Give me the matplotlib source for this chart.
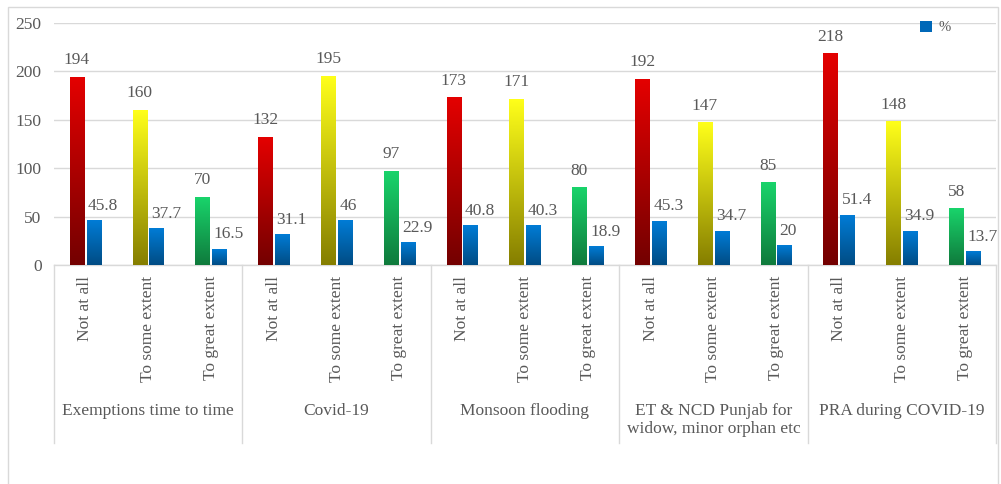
import numpy as np
import matplotlib
matplotlib.use("Agg")
import matplotlib.pyplot as plt
from matplotlib.colors import LinearSegmentedColormap
from matplotlib.patches import Rectangle, Patch
from matplotlib.transforms import blended_transform_factory

# ---- data ----
groups = ["Exemptions time to time", "Covid-19", "Monsoon flooding",
          "ET & NCD Punjab for\nwidow, minor orphan etc", "PRA during COVID-19"]
responses = ["Not at all", "To some extent", "To great extent"]
counts = [194, 160, 70,
          132, 195, 97,
          173, 171, 80,
          192, 147, 85,
          218, 148, 58]
percent = [45.8, 37.7, 16.5,
           31.1, 46, 22.9,
           40.8, 40.3, 18.9,
           45.3, 34.7, 20,
           51.4, 34.9, 13.7]
pct_labels = ["45.8", "37.7", "16.5", "31.1", "46", "22.9", "40.8", "40.3",
              "18.9", "45.3", "34.7", "20", "51.4", "34.9", "13.7"]
yticks = [0, 50, 100, 150, 200, 250]

# gradient (bottom colour, top colour) per response
response_grad = [("#730000", "#E40000"),
                 ("#857E00", "#FFFF1A"),
                 ("#0F7A3C", "#19D46B")]
pct_grad = ("#004C84", "#007CD6")

TEXT = "#595959"
GRID = "#D9D9D9"
FONT = "Liberation Serif"
FS = 12.5

plt.rcParams["font.family"] = [FONT, "DejaVu Serif"]

fig = plt.figure(figsize=(10.01, 4.84), dpi=100)
ax = fig.add_axes([54 / 1001, (484 - 265) / 484, (996 - 54) / 1001, 242 / 484])

# outer chart border
fig.patches.append(Rectangle((8 / 1001, -0.01), (998 - 8) / 1001, (484 - 7) / 484 + 0.01,
                             transform=fig.transFigure, fill=False,
                             edgecolor=GRID, linewidth=1.0, zorder=0))

n = len(counts)
x = np.arange(n)
width = 0.23
off = 0.135


def gradient_bar(xc, h, c_bottom, c_top):
    cmap = LinearSegmentedColormap.from_list("g", [c_bottom, c_top])
    grad = np.linspace(0, 1, 256).reshape(-1, 1)
    ax.imshow(grad, extent=[xc - width / 2, xc + width / 2, 0, h], origin="lower",
              cmap=cmap, aspect="auto", zorder=3, interpolation="bicubic")


for i in range(n):
    r = i % 3
    cb, ct = response_grad[r]
    gradient_bar(x[i] - off, counts[i], cb, ct)
    gradient_bar(x[i] + off, percent[i], *pct_grad)
    ax.annotate(str(counts[i]), (x[i] - off, counts[i]), xytext=(0, 6.5),
                textcoords="offset points", ha="center", va="bottom",
                fontsize=FS, color=TEXT)
    ax.annotate(pct_labels[i], (x[i] + off - width / 2, percent[i]), xytext=(1, 5),
                textcoords="offset points", ha="left", va="bottom",
                fontsize=FS, color=TEXT)

ax.set_xlim(-0.5, n - 0.5)
ax.set_ylim(0, 250)
ax.set_yticks(yticks)
ax.set_yticklabels([str(v) for v in yticks], fontsize=FS, color=TEXT)
ax.yaxis.grid(True, color=GRID, linewidth=1.0)
ax.set_axisbelow(True)
ax.tick_params(axis="y", length=0, pad=9)

ax.set_xticks(x)
ax.set_xticklabels([responses[i % 3] for i in range(n)], rotation=90,
                   fontsize=FS, color=TEXT, va="top")
ax.tick_params(axis="x", length=0, pad=8)

for s in ["top", "right", "left"]:
    ax.spines[s].set_visible(False)
ax.spines["bottom"].set_color(GRID)
ax.spines["bottom"].set_linewidth(1.0)

trans = blended_transform_factory(ax.transData, ax.transAxes)
sep_bottom = (265 - 443) / 242
for g in range(len(groups) + 1):
    xs = g * 3 - 0.5
    ax.plot([xs, xs], [0, sep_bottom], color=GRID, linewidth=1.0,
            transform=trans, clip_on=False)
for g, name in enumerate(groups):
    ax.text(g * 3 + 1, (265 - 403) / 242, name, transform=trans, ha="center",
            va="top", fontsize=FS, color=TEXT, linespacing=1.15)

handle = Patch(facecolor="#0068B8", edgecolor="none")
fig.legend([handle], ["%"], loc="center left", bbox_to_anchor=(920 / 1001, 1 - 27.5 / 484),
           frameon=False, fontsize=10.5, labelcolor=TEXT, handlelength=0.8,
           handleheight=0.8, handletextpad=0.5, borderaxespad=0, borderpad=0)

fig.savefig("out.png", dpi=100)
